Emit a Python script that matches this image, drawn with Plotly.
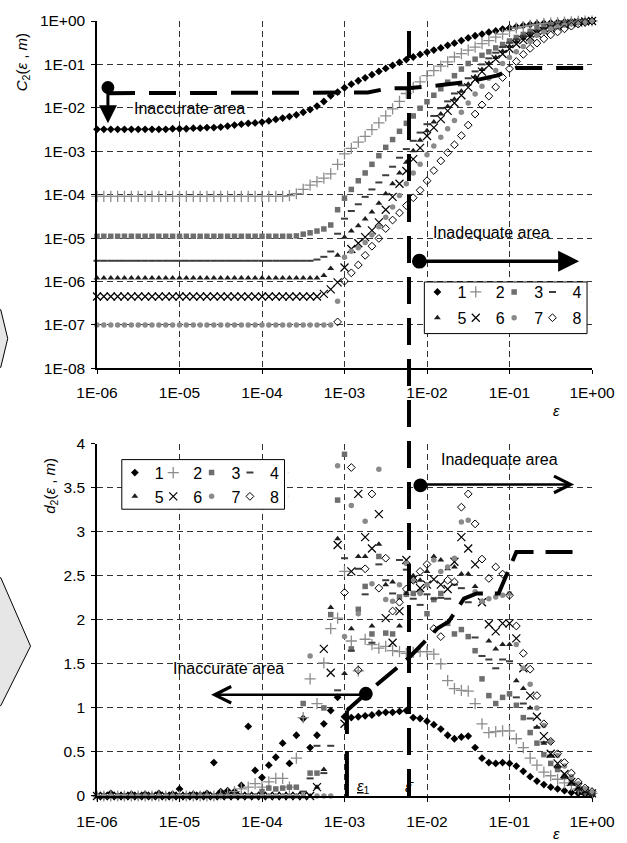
import numpy as np
import plotly.graph_objects as go

# ---------------- data ----------------
EPS = [1.00e-6, 1.21e-6, 1.47e-6, 1.78e-6, 2.15e-6, 2.61e-6, 3.16e-6, 3.83e-6, 4.64e-6, 5.62e-6, 6.81e-6, 8.25e-6,
       1.00e-5, 1.21e-5, 1.47e-5, 1.78e-5, 2.15e-5, 2.61e-5, 3.16e-5, 3.83e-5, 4.64e-5, 5.62e-5, 6.81e-5, 8.25e-5,
       1.00e-4, 1.21e-4, 1.47e-4, 1.78e-4, 2.15e-4, 2.61e-4, 3.16e-4, 3.83e-4, 4.64e-4, 5.62e-4, 6.81e-4, 8.25e-4,
       1.00e-3, 1.21e-3, 1.47e-3, 1.78e-3, 2.15e-3, 2.61e-3, 3.16e-3, 3.83e-3, 4.64e-3, 5.62e-3, 6.81e-3, 8.25e-3,
       1.00e-2, 1.21e-2, 1.47e-2, 1.78e-2, 2.15e-2, 2.61e-2, 3.16e-2, 3.83e-2, 4.64e-2, 5.62e-2, 6.81e-2, 8.25e-2,
       1.00e-1, 1.21e-1, 1.47e-1, 1.78e-1, 2.15e-1, 2.61e-1, 3.16e-1, 3.83e-1, 4.64e-1, 5.62e-1, 6.81e-1, 8.25e-1,
       1.00]

C2_1 = [3.2e-3, 3.2e-3, 3.2e-3, 3.2e-3, 3.2e-3, 3.2e-3, 3.2e-3, 3.2e-3, 3.2e-3, 3.2e-3, 3.2e-3, 3.3e-3,
        3.3e-3, 3.3e-3, 3.4e-3, 3.4e-3, 3.5e-3, 3.5e-3, 3.6e-3, 3.8e-3, 4.0e-3, 4.2e-3, 4.4e-3, 4.5e-3,
        4.7e-3, 5.0e-3, 5.4e-3, 5.8e-3, 6.3e-3, 6.9e-3, 7.9e-3, 9.1e-3, 1.1e-2, 1.4e-2, 1.9e-2, 2.3e-2,
        2.9e-2, 3.5e-2, 4.2e-2, 4.9e-2, 5.8e-2, 6.9e-2, 8.1e-2, 9.5e-2, 0.112, 0.129, 0.148, 0.170,
        0.191, 0.214, 0.240, 0.275, 0.309, 0.355, 0.407, 0.457, 0.50, 0.55, 0.59, 0.65,
        0.69, 0.74, 0.79, 0.83, 0.87, 0.89, 0.91, 0.93, 0.95, 0.97, 0.98, 0.99,
        1.0]
C2_2 = [9.1e-5, 9.1e-5, 9.1e-5, 9.1e-5, 9.1e-5, 9.1e-5, 9.1e-5, 9.1e-5, 9.1e-5, 9.1e-5, 9.1e-5, 9.1e-5,
        9.1e-5, 9.1e-5, 9.1e-5, 9.1e-5, 9.1e-5, 9.1e-5, 9.1e-5, 9.1e-5, 9.1e-5, 9.1e-5, 9.1e-5, 9.1e-5,
        9.1e-5, 9.1e-5, 9.1e-5, 9.1e-5, 9.5e-5, 1.05e-4, 1.32e-4, 1.66e-4, 2.0e-4, 2.4e-4, 3.0e-4, 5.0e-4,
        8.7e-4, 1.17e-3, 1.62e-3, 2.19e-3, 3.16e-3, 4.5e-3, 6.5e-3, 9.5e-3, 1.41e-2, 2.14e-2, 2.95e-2, 3.98e-2,
        5.5e-2, 7.2e-2, 9.1e-2, 0.115, 0.148, 0.178, 0.214, 0.251, 0.302, 0.355, 0.427, 0.50,
        0.60, 0.69, 0.74, 0.79, 0.83, 0.87, 0.90, 0.92, 0.94, 0.96, 0.98, 0.99,
        1.0]
C2_3 = [1.1e-5, 1.1e-5, 1.1e-5, 1.1e-5, 1.1e-5, 1.1e-5, 1.1e-5, 1.1e-5, 1.1e-5, 1.1e-5, 1.1e-5, 1.1e-5,
        1.1e-5, 1.1e-5, 1.1e-5, 1.1e-5, 1.1e-5, 1.1e-5, 1.1e-5, 1.1e-5, 1.1e-5, 1.1e-5, 1.1e-5, 1.1e-5,
        1.1e-5, 1.1e-5, 1.1e-5, 1.1e-5, 1.1e-5, 1.12e-5, 1.23e-5, 1.32e-5, 1.45e-5, 1.62e-5, 2.0e-5, 4.5e-5,
        8.3e-5, 1.32e-4, 2.09e-4, 3.16e-4, 5.0e-4, 7.9e-4, 1.23e-3, 1.86e-3, 2.88e-3, 4.4e-3, 6.5e-3, 9.8e-3,
        1.38e-2, 1.95e-2, 2.75e-2, 3.89e-2, 5.5e-2, 7.8e-2, 0.105, 0.132, 0.162, 0.195, 0.240, 0.288,
        0.347, 0.417, 0.490, 0.575, 0.66, 0.72, 0.79, 0.85, 0.89, 0.93, 0.95, 0.98,
        1.0]
C2_4 = [3.0e-6, 3.0e-6, 3.0e-6, 3.0e-6, 3.0e-6, 3.0e-6, 3.0e-6, 3.0e-6, 3.0e-6, 3.0e-6, 3.0e-6, 3.0e-6,
        3.0e-6, 3.0e-6, 3.0e-6, 3.0e-6, 3.0e-6, 3.0e-6, 3.0e-6, 3.0e-6, 3.0e-6, 3.0e-6, 3.0e-6, 3.0e-6,
        3.0e-6, 3.0e-6, 3.0e-6, 3.0e-6, 3.0e-6, 3.0e-6, 3.0e-6, 3.0e-6, 3.2e-6, 3.7e-6, 4.9e-6, 1.26e-5,
        2.8e-5, 4.2e-5, 6.0e-5, 8.9e-5, 1.32e-4, 1.91e-4, 2.8e-4, 4.4e-4, 7.1e-4, 1.12e-3, 1.74e-3, 2.69e-3,
        4.2e-3, 6.5e-3, 9.8e-3, 1.41e-2, 2.14e-2, 3.3e-2, 4.8e-2, 6.9e-2, 0.100, 0.138, 0.186, 0.251,
        0.316, 0.380, 0.457, 0.537, 0.60, 0.68, 0.74, 0.81, 0.85, 0.89, 0.93, 0.98,
        1.0]
C2_5 = [1.2e-6, 1.2e-6, 1.2e-6, 1.2e-6, 1.2e-6, 1.2e-6, 1.2e-6, 1.2e-6, 1.2e-6, 1.2e-6, 1.2e-6, 1.2e-6,
        1.2e-6, 1.2e-6, 1.2e-6, 1.2e-6, 1.2e-6, 1.2e-6, 1.2e-6, 1.2e-6, 1.2e-6, 1.2e-6, 1.2e-6, 1.2e-6,
        1.2e-6, 1.2e-6, 1.2e-6, 1.2e-6, 1.2e-6, 1.2e-6, 1.2e-6, 1.2e-6, 1.2e-6, 1.38e-6, 2.0e-6, 4.0e-6,
        1.05e-5, 1.45e-5, 1.91e-5, 2.75e-5, 4.0e-5, 6.3e-5, 1.05e-4, 1.78e-4, 3.16e-4, 5.6e-4, 1.02e-3, 1.78e-3,
        2.95e-3, 4.7e-3, 7.2e-3, 1.07e-2, 1.58e-2, 2.4e-2, 3.5e-2, 5.2e-2, 7.6e-2, 0.107, 0.145, 0.200,
        0.263, 0.331, 0.398, 0.468, 0.55, 0.63, 0.71, 0.78, 0.83, 0.89, 0.93, 0.98,
        1.0]
C2_6 = [4.5e-7, 4.5e-7, 4.5e-7, 4.5e-7, 4.5e-7, 4.5e-7, 4.5e-7, 4.5e-7, 4.5e-7, 4.5e-7, 4.5e-7, 4.5e-7,
        4.5e-7, 4.5e-7, 4.5e-7, 4.5e-7, 4.5e-7, 4.5e-7, 4.5e-7, 4.5e-7, 4.5e-7, 4.5e-7, 4.5e-7, 4.5e-7,
        4.5e-7, 4.5e-7, 4.5e-7, 4.5e-7, 4.5e-7, 4.5e-7, 4.5e-7, 4.5e-7, 4.5e-7, 5.2e-7, 6.6e-7, 9.5e-7,
        2.1e-6, 5.6e-6, 7.6e-6, 1.05e-5, 1.51e-5, 2.3e-5, 4.5e-5, 8.9e-5, 1.78e-4, 3.5e-4, 6.6e-4, 1.20e-3,
        2.24e-3, 3.5e-3, 5.5e-3, 8.5e-3, 1.29e-2, 1.95e-2, 2.95e-2, 4.5e-2, 6.8e-2, 9.5e-2, 0.132, 0.174,
        0.229, 0.295, 0.363, 0.427, 0.51, 0.59, 0.68, 0.76, 0.83, 0.89, 0.93, 0.98,
        1.0]
C2_7 = [1.0e-7, 1.0e-7, 1.0e-7, 1.0e-7, 1.0e-7, 1.0e-7, 1.0e-7, 1.0e-7, 1.0e-7, 1.0e-7, 1.0e-7, 1.0e-7,
        1.0e-7, 1.0e-7, 1.0e-7, 1.0e-7, 1.0e-7, 1.0e-7, 1.0e-7, 1.0e-7, 1.0e-7, 1.0e-7, 1.0e-7, 1.0e-7,
        1.0e-7, 1.0e-7, 1.0e-7, 1.0e-7, 1.0e-7, 1.0e-7, 1.0e-7, 1.0e-7, 1.0e-7, 1.0e-7, 1.0e-7, 3.5e-7,
        3.6e-6, 5.0e-6, 6.0e-6, 7.9e-6, 1.17e-5, 1.82e-5, 3.0e-5, 5.2e-5, 9.5e-5, 1.78e-4, 3.16e-4, 5.0e-4,
        8.3e-4, 1.32e-3, 2.09e-3, 3.3e-3, 5.1e-3, 7.9e-3, 1.29e-2, 2.09e-2, 3.16e-2, 4.8e-2, 7.2e-2, 0.105,
        0.145, 0.195, 0.257, 0.339, 0.468, 0.56, 0.66, 0.74, 0.81, 0.87, 0.93, 0.98,
        1.0]
C2_8 = [None, None, None, None, None, None, None, None, None, None, None, None,
        None, None, None, None, None, None, None, None, None, None, None, None,
        None, None, None, None, None, None, None, None, None, None, None, 1.17e-7,
        1.02e-6, 1.58e-6, 2.4e-6, 4.0e-6, 6.5e-6, 9.8e-6, 1.66e-5, 2.6e-5, 3.8e-5, 5.6e-5, 8.5e-5, 1.26e-4,
        2.09e-4, 3.6e-4, 6.0e-4, 9.3e-4, 1.41e-3, 2.29e-3, 4.0e-3, 7.2e-3, 1.17e-2, 1.86e-2, 3.0e-2, 5.0e-2,
        7.9e-2, 0.117, 0.170, 0.234, 0.309, 0.389, 0.479, 0.56, 0.66, 0.76, 0.85, 0.93,
        1.0]

D2_1 = [0, 0, 0.03, 0, 0, 0.02, 0, 0.02, 0, 0.03, 0, 0.02,
        0.08, 0, 0.02, 0.01, 0.03, 0.38, 0.05, 0.06, 0.05, 0.12, 0.79, 0.29,
        0.21, 0.35, 0.44, 0.60, 0.37, 0.69, 0.88, 0.55, 0.69, 0.82, 0.97, 1.12,
        0.90, 0.89, 0.90, 0.91, 0.92, 0.94, 0.95, 0.95, 0.96, 0.97, 0.89, 0.88,
        0.85, 0.81, 0.76, 0.69, 0.65, 0.67, 0.68, 0.55, 0.43, 0.38, 0.37, 0.38,
        0.37, 0.34, 0.28, 0.22, 0.17, 0.13, 0.10, 0.08, 0.06, 0.04, 0.03, 0.02,
        0.01]
D2_2 = [0, 0, 0, 0, 0, 0, 0, 0, 0, 0, 0, 0,
        0, 0, 0, 0, 0, 0, 0.02, 0.03, 0.05, 0.08, 0.10, 0.14,
        0.10, 0.16, 0.20, 0.20, 0.10, 0.43, 0.89, 1.33, 1.05, 1.51, 1.90, 2.02,
        2.55, 1.76, 1.42, 1.78, 1.72, 1.68, 1.70, 1.65, 1.64, 1.62, 1.63, 1.64,
        1.64, 1.61, 1.50, 1.31, 1.22, 1.20, 1.19, 1.05, 0.82, 0.72, 0.73, 0.74,
        0.74, 0.65, 0.55, 0.43, 0.35, 0.27, 0.23, 0.19, 0.15, 0.12, 0.08, 0.05,
        0.03]
D2_3 = [0, 0, 0, 0, 0, 0, 0, 0, 0, 0, 0, 0,
        0, 0, 0, 0, 0, 0, 0, 0, 0, 0, 0, 0,
        0.05, 0.09, 0.08, 0.09, 0.10, 0.10, 1.05, 0.26, 0.26, 1.00, 2.06, 3.36,
        3.88, 1.67, 2.12, 2.38, 1.84, 2.72, 1.85, 1.84, 2.26, 2.29, 2.30, 2.32,
        2.07, 2.23, 2.30, 1.96, 1.84, 1.89, 1.81, 1.65, 1.33, 1.14, 1.05, 1.12,
        1.16, 1.03, 0.89, 0.72, 0.60, 0.47, 0.37, 0.30, 0.22, 0.16, 0.10, 0.05,
        0.03]
D2_4 = [0, 0, 0, 0, 0, 0, 0, 0, 0, 0, 0, 0,
        0, 0, 0, 0, 0, 0, 0, 0, 0, 0, 0, 0,
        0, 0, 0, 0, 0, 0, 0.05, 0.20, 0.57, 0.26, 0.57, 1.20,
        2.70, 1.65, 2.58, 2.29, 1.74, 2.63, 2.45, 2.30, 2.68, 2.57, 2.24, 2.17,
        2.29, 2.24, 2.25, 2.24, 2.40, 2.36, 2.20, 1.80, 1.59, 1.55, 1.45, 1.55,
        1.53, 1.12, 1.05, 0.88, 0.78, 0.61, 0.46, 0.33, 0.21, 0.13, 0.07, 0.04,
        0.02]
D2_5 = [0, 0, 0, 0, 0, 0, 0, 0, 0, 0, 0, 0,
        0, 0, 0, 0, 0, 0, 0, 0, 0, 0, 0, 0,
        0, 0, 0, 0, 0, 0, 0, 0, 0.10, 0.30, 2.14, 2.92,
        1.39, 1.90, 2.72, 2.72, 1.93, 2.86, 2.40, 2.43, 1.93, 2.30, 2.50, 2.45,
        2.55, 2.72, 2.68, 2.58, 2.60, 2.52, 2.52, 2.38, 2.21, 1.76, 1.67, 1.72,
        1.72, 1.31, 1.22, 1.00, 0.78, 0.60, 0.45, 0.33, 0.22, 0.15, 0.09, 0.05,
        0.03]
D2_6 = [0, 0, 0, 0, 0, 0, 0, 0, 0, 0, 0, 0,
        0, 0, 0, 0, 0, 0, 0, 0, 0, 0, 0, 0,
        0, 0, 0, 0, 0, 0, 0, 0, 0.10, 1.67, 1.40, 2.85,
        0.82, 2.55, 3.43, 2.94, 2.81, 3.20, 2.02, 1.74, 2.10, 2.68, 2.46, 2.36,
        2.40, 2.46, 2.40, 2.35, 2.66, 2.94, 2.81, 2.63, 2.20, 1.95, 1.87, 1.96,
        1.96, 1.79, 1.45, 1.14, 0.90, 0.68, 0.48, 0.37, 0.25, 0.16, 0.10, 0.06,
        0.03]
D2_7 = [0, 0, 0, 0, 0, 0, 0, 0, 0, 0, 0, 0,
        0, 0, 0, 0, 0, 0, 0, 0, 0, 0, 0, 0,
        0, 0, 0, 0, 0, 0, 0, 1.59, 0, 0, 0, 3.75,
        1.81, 3.30, 2.07, 3.12, 2.41, 3.71, 2.23, 2.21, 2.40, 2.64, 2.45, 2.30,
        2.40, 2.68, 2.55, 2.60, 2.70, 3.11, 3.13, 2.32, 2.21, 2.24, 2.26, 2.28,
        2.30, 1.72, 1.45, 1.27, 1.00, 0.80, 0.62, 0.46, 0.34, 0.22, 0.14, 0.08,
        0.04]
D2_8 = [None, None, None, None, None, None, None, None, None, None, None, None,
        None, None, None, None, None, None, None, None, None, None, None, None,
        None, None, None, None, None, None, None, None, None, None, None, None,
        2.31, 3.73, 1.43, 2.58, 3.43, 2.36, 2.70, 2.10, 2.20, 2.35, 2.45, 2.55,
        2.63, 1.90, 1.81, 2.45, 2.43, 3.28, 3.43, 3.09, 2.69, 2.47, 2.60, 2.52,
        2.28, 1.93, 1.62, 1.44, 1.14, 0.82, 0.62, 0.48, 0.38, 0.26, 0.16, 0.09,
        0.05]

C2_SERIES = [C2_1, C2_2, C2_3, C2_4, C2_5, C2_6, C2_7, C2_8]
D2_SERIES = [D2_1, D2_2, D2_3, D2_4, D2_5, D2_6, D2_7, D2_8]
NAMES = ["1", "2", "3", "4", "5", "6", "7", "8"]

# threshold curves (heavy dashed)
THR_EPS_TOP = [1.36e-6, 1.91e-3, 3.33e-3, 5.8e-3, 1.33e-2, 3.3e-2, 6.98e-2, 0.121, 0.796]
THR_C2 = [0.0218, 0.0225, 0.0279, 0.0284, 0.0327, 0.0404, 0.0553, 0.083, 0.083]
THR_EPS_BOT = [1.07e-3, 1.81e-3, 6.05e-3, 1.33e-2, 1.83e-2, 2.8e-2, 4.0e-2, 7.38e-2, 0.121, 0.796]
THR_D2 = [0.97, 1.16, 1.57, 1.90, 1.98, 2.24, 2.30, 2.30, 2.77, 2.77]
EPS_1 = 1.07e-3
EPS_BAR = 6.05e-3

X_TICKS = [1e-6, 1e-5, 1e-4, 1e-3, 1e-2, 1e-1, 1.0]
X_TICKTEXT = ["1E-06", "1E-05", "1E-04", "1E-03", "1E-02", "1E-01", "1E+00"]
Y_TICKS_TOP = [1e-8, 1e-7, 1e-6, 1e-5, 1e-4, 1e-3, 1e-2, 1e-1, 1.0]
Y_TICKTEXT_TOP = ["1E-08", "1E-07", "1E-06", "1E-05", "1E-04", "1E-03", "1E-02", "1E-01", "1E+00"]
Y_TICKS_BOT = [0, 0.5, 1, 1.5, 2, 2.5, 3, 3.5, 4]
Y_TICKTEXT_BOT = ["0", "0.5", "1", "1.5", "2", "2.5", "3", "3.5", "4"]

# ---------------- styling ----------------
FONT = "Liberation Sans, Arial, sans-serif"
W, H = 627, 843
ML, MR, MT, MB = 97, 31, 15, 47
PW, PH = W - ML - MR, H - MT - MB
TOP_DOM = [(H - MB - 365) / PH, 1.0]
BOT_DOM = [0.0, (H - MB - 441) / PH]


def px(x):
    return (x - ML) / PW


def py(y):
    return (H - MB - y) / PH


STYLES = [
    dict(symbol="diamond", color="#000000", size=6),
    dict(symbol="cross-thin", color="#8c8c8c", size=8, line=dict(width=1.3, color="#8c8c8c")),
    dict(symbol="square", color="#6e6e6e", size=5.5),
    dict(symbol="line-ew", color="#3c3c3c", size=5, line=dict(width=2, color="#3c3c3c")),
    dict(symbol="triangle-up", color="#1e1e1e", size=6),
    dict(symbol="x-thin", color="#000000", size=8, line=dict(width=1.2, color="#000000")),
    dict(symbol="circle", color="#8a8a8a", size=5.5),
    dict(symbol="diamond-open", color="#000000", size=6, line=dict(width=1, color="#000000")),
]

LEGS_TOP = ["legend", "legend", "legend", "legend", "legend2", "legend2", "legend2", "legend2"]
LEGS_BOT = ["legend3", "legend3", "legend3", "legend3", "legend4", "legend4", "legend4", "legend4"]

fig = go.Figure()
for k in range(8):
    fig.add_trace(go.Scatter(x=EPS, y=C2_SERIES[k], mode="markers", name=NAMES[k],
                             marker=STYLES[k], xaxis="x", yaxis="y", cliponaxis=False,
                             legend=LEGS_TOP[k]))
fig.add_trace(go.Scatter(x=THR_EPS_TOP, y=THR_C2, mode="lines", showlegend=False,
                         line=dict(color="black", width=4, dash="27px,14px"), xaxis="x", yaxis="y"))
for k in range(8):
    fig.add_trace(go.Scatter(x=EPS, y=D2_SERIES[k], mode="markers", name=NAMES[k],
                             marker=STYLES[k], xaxis="x2", yaxis="y2", cliponaxis=False,
                             legend=LEGS_BOT[k]))
fig.add_trace(go.Scatter(x=THR_EPS_BOT, y=THR_D2, mode="lines", showlegend=False,
                         line=dict(color="black", width=4, dash="27px,12px"), xaxis="x2", yaxis="y2"))
# empty spacer entries so the last legend label of each row is not clipped
for lg in ["legend", "legend2", "legend3", "legend4"]:
    fig.add_trace(go.Scatter(x=[None], y=[None], mode="markers", name=" ", legend=lg,
                             marker=dict(opacity=0, size=1), hoverinfo="skip", showlegend=True))

axis_common = dict(showline=True, linecolor="black", linewidth=1.5, ticks="outside", ticklen=4,
                   tickcolor="black", showgrid=True, gridcolor="#333333", gridwidth=1, griddash="6px,4px",
                   zeroline=False, tickfont=dict(family=FONT, size=15.5, color="black"), mirror=False)

fig.update_layout(
    width=W, height=H, margin=dict(l=ML, r=MR, t=MT, b=MB),
    paper_bgcolor="white", plot_bgcolor="white", font=dict(family=FONT, color="black"),
    xaxis=dict(type="log", range=[-6, 0], anchor="y", tickmode="array", tickvals=X_TICKS,
               ticktext=X_TICKTEXT, ticklabelstandoff=5, **axis_common),
    yaxis=dict(type="log", range=[-8, 0], domain=TOP_DOM, anchor="x", tickmode="array",
               tickvals=Y_TICKS_TOP, ticktext=Y_TICKTEXT_TOP, ticklabelstandoff=3, **axis_common),
    xaxis2=dict(type="log", range=[-6, 0], anchor="y2", tickmode="array", tickvals=X_TICKS,
                ticktext=X_TICKTEXT, ticklabelstandoff=7, **axis_common),
    yaxis2=dict(range=[0, 4], domain=BOT_DOM, anchor="x2", tickmode="array",
                tickvals=Y_TICKS_BOT, ticktext=Y_TICKTEXT_BOT, ticklabelstandoff=3, **axis_common),
)

leg_common = dict(orientation="h", xanchor="left", yanchor="top", bgcolor="rgba(0,0,0,0)",
                  borderwidth=0, font=dict(family=FONT, size=16, color="black"),
                  entrywidth=0.0775, entrywidthmode="fraction", traceorder="normal",
                  itemclick=False, itemdoubleclick=False)
fig.update_layout(
    legend=dict(x=px(420), y=py(271), **leg_common),
    legend2=dict(x=px(420), y=py(297), **leg_common),
    legend3=dict(x=px(115), y=py(453), **leg_common),
    legend4=dict(x=px(115), y=py(477), **leg_common),
)

shapes = []
# chevrons on the left edge
shapes.append(dict(type="path", xref="paper", yref="paper", layer="below",
                   path=f"M{px(-6)},{py(306)} L{px(0)},{py(306)} L{px(7)},{py(335)} L{px(0)},{py(364)} L{px(-6)},{py(364)} Z",
                   fillcolor="#e6e6e6", line=dict(color="black", width=1)))
shapes.append(dict(type="path", xref="paper", yref="paper", layer="below",
                   path=f"M{px(-6)},{py(576)} L{px(0)},{py(576)} L{px(30)},{py(645)} L{px(0)},{py(705)} L{px(-6)},{py(705)} Z",
                   fillcolor="#e6e6e6", line=dict(color="black", width=1)))
# legend boxes
shapes.append(dict(type="rect", xref="paper", yref="paper", layer="above",
                   x0=px(427), x1=px(591), y0=py(330), y1=py(278),
                   fillcolor="white", line=dict(color="black", width=1)))
shapes.append(dict(type="rect", xref="paper", yref="paper", layer="above",
                   x0=px(122), x1=px(286), y0=py(507), y1=py(457),
                   fillcolor="white", line=dict(color="black", width=1)))
# vertical dashed lines (eps_bar across both panels, eps_1 in the lower panel)
xbar = (np.log10(EPS_BAR) + 6) / 6
shapes.append(dict(type="line", xref="paper", yref="paper", layer="above",
                   x0=xbar, x1=xbar, y0=0, y1=1, line=dict(color="black", width=4, dash="27px,14px")))
x1p = (np.log10(EPS_1) + 6) / 6
y1p = BOT_DOM[0] + (BOT_DOM[1] - BOT_DOM[0]) * THR_D2[0] / 4
shapes.append(dict(type="line", xref="paper", yref="paper", layer="above",
                   x0=x1p, x1=x1p, y0=0, y1=y1p, line=dict(color="black", width=4, dash="45px,17px")))


def dot(cx, cy, r):
    return dict(type="circle", xref="paper", yref="paper", layer="above",
                x0=px(cx - r), x1=px(cx + r), y0=py(cy + r), y1=py(cy - r),
                fillcolor="black", line=dict(color="black", width=0))


shapes += [dot(108, 82, 6.5), dot(422, 257, 7.5), dot(423, 483, 7), dot(368, 693, 7)]
fig.update_layout(shapes=shapes)

ann = []
tf = dict(family=FONT, size=16, color="black")
c = dict(xref="paper", yref="paper", showarrow=False, xanchor="center", yanchor="middle")
ann.append(dict(text="Inaccurate area", x=px(190), y=py(103), font=tf, **c))
ann.append(dict(text="Inadequate area", x=px(495), y=py(228), font=tf, **c))
ann.append(dict(text="Inadequate area", x=px(503), y=py(457), font=tf, **c))
ann.append(dict(text="Inaccurate area", x=px(230), y=py(668), font=tf, **c))
# arrows
arr = dict(xref="paper", yref="paper", text="", showarrow=True, arrowcolor="black", standoff=0,
           startstandoff=0, xanchor="center", yanchor="middle")
ann.append(dict(x=px(108), y=py(118), ax=0, ay=-34, arrowhead=2, arrowsize=1.2, arrowwidth=3, **arr))
ann.append(dict(x=px(583), y=py(257), ax=-160, ay=0, arrowhead=2, arrowsize=1.2, arrowwidth=3.5, **arr))
ann.append(dict(x=px(578), y=py(482), ax=-155, ay=0, arrowhead=5, arrowsize=1.3, arrowwidth=2.5, **arr))
ann.append(dict(x=px(212), y=py(694), ax=156, ay=0, arrowhead=5, arrowsize=1.3, arrowwidth=2.5, **arr))
# axis titles and epsilon labels
sf = dict(family=FONT, size=15, color="black")
ann.append(dict(text="<i>ε</i>", x=px(560), y=py(408), font=sf, **c))
ann.append(dict(text="<i>ε</i>", x=px(560), y=py(834), font=sf, **c))
ann.append(dict(text="<i>C</i><sub>2</sub>(<i>ε</i> , <i>m</i>)", x=px(22), y=py(57), textangle=-90, font=sf, **c))
ann.append(dict(text="<i>d</i><sub>2</sub>(<i>ε</i> , <i>m</i>)", x=px(50), y=py(483), textangle=-90, font=sf, **c))
ann.append(dict(text="<u><i>ε</i></u><sub>1</sub>", x=px(366), y=py(786), font=sf, **c))
ann.append(dict(text="<i>ε̄</i>", x=px(413), y=py(786), font=sf, **c))
fig.update_layout(annotations=ann)

fig.write_html("out.html")
